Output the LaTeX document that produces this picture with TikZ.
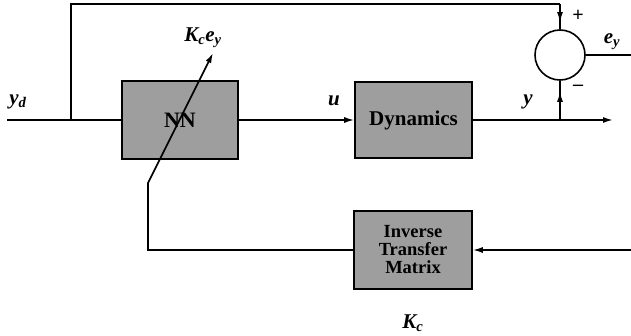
\documentclass[tikz,border=0pt]{standalone}
\usepackage{fontspec}
\setmainfont{Liberation Serif}
\usetikzlibrary{arrows.meta,decorations.markings}
\tikzset{
  ln/.style={line width=1.6pt},
  arr/.style={ln,-{Latex[length=10pt,width=6pt]}},
  midarr/.style={ln,postaction={decorate},decoration={markings,mark=at position #1 with {\arrow{Latex[length=10pt,width=6pt]}}}},
  blk/.style={draw,line width=1.6pt,fill=black!38,inner sep=0pt,font=\fontsize{21}{20}\selectfont\bfseries,align=center},
  lbl/.style={font=\fontsize{21}{21}\selectfont\bfseries\itshape,inner sep=0pt},
}
\begin{document}
\begin{tikzpicture}[x=1pt,y=-1pt]
\useasboundingbox (0,0) rectangle (631,335);
\node[blk,minimum width=116pt,minimum height=78pt,font=\fontsize{22}{22}\selectfont\bfseries] (nn) at (180,120) {NN};
\node[blk,minimum width=117pt,minimum height=76pt] (dyn) at (413.5,120) {Dynamics};
\node[blk,minimum width=118pt,minimum height=78pt,font=\fontsize{18.5}{18}\selectfont\bfseries] (itm) at (413,250) {Inverse\\Transfer\\Matrix};
\node[circle,draw,line width=1.6pt,minimum size=50pt,inner sep=0pt] (sum) at (560,55) {};
\coordinate (yd) at (7,120);
\coordinate (br) at (71,120);
\coordinate (top1) at (71,4);
\coordinate (top2) at (560,4);
\coordinate (ybr) at (560,120);
\coordinate (yout) at (613,120);
\coordinate (eyout) at (631,55);
\coordinate (fbin) at (631,250);
\coordinate (fb1) at (148,250);
\coordinate (fb2) at (148,183);
\coordinate (fbtip) at (213,53);
\draw[ln] (yd) -- (nn.west);
\draw[ln] (br) -- (top1) -- (top2);
\draw[midarr=0.72] (top2) -- (sum.north);
\draw[arr] (nn.east) -- (dyn.west);
\draw[arr] (dyn.east) -- (yout);
\draw[midarr=0.72] (ybr) -- (sum.south);
\draw[ln] (sum.east) -- (eyout);
\draw[arr] (fbin) -- (itm.east);
\draw[arr] (itm.west) -- (fb1) -- (fb2) -- (fbtip);
\node[lbl] (lyd) at (18,102) {y\textsubscript{d}};
\node[lbl] (lu) at (334,101) {u};
\node[lbl] (ly) at (528,102) {y};
\node[lbl,font=\fontsize{20}{20}\selectfont\bfseries] (lp) at (578,16) {+};
\node[lbl,font=\fontsize{20}{20}\selectfont\bfseries] (lm) at (578,88) {\textendash};
\node[lbl] (ley) at (612,42) {e\textsubscript{y}};
\node[lbl] (lkey) at (203,38) {K\textsubscript{c}e\textsubscript{y}};
\node[lbl] (lkc) at (413,323) {K\textsubscript{c}};
\end{tikzpicture}
\end{document}
